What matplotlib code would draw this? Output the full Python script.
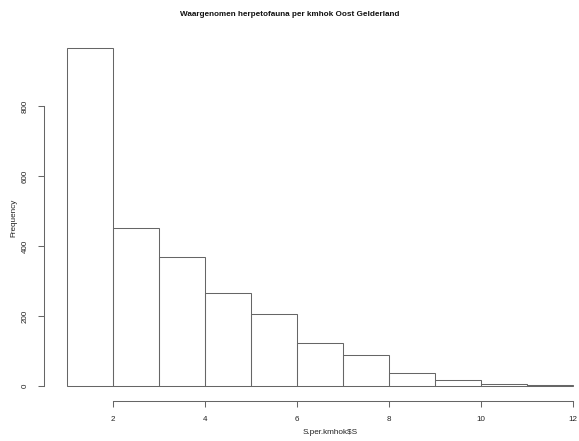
import matplotlib
matplotlib.use("Agg")
import matplotlib.pyplot as plt
import numpy as np

plt.rcParams['font.family'] = ['Liberation Sans', 'DejaVu Sans']

bin_edges = [1, 2, 3, 4, 5, 6, 7, 8, 9, 10, 11, 12]
counts = [966, 452, 368, 265, 207, 122, 89, 38, 16, 7, 2]
x_ticks = [2, 4, 6, 8, 10, 12]
y_ticks = [0, 200, 400, 600, 800]
title = "Waargenomen herpetofauna per kmhok Oost Gelderland"
xlabel = "S.per.kmhok$S"
ylabel = "Frequency"

W, H = 579, 441
fig = plt.figure(figsize=(W / 100, H / 100), dpi=100)

left_px, right_px = 46.4, 593.0
top_px, bottom_px = 34.4, 399.5
ax = fig.add_axes([left_px / W, 1 - bottom_px / H,
                   (right_px - left_px) / W, (bottom_px - top_px) / H])

lc = '#666666'
edges = np.array(bin_edges)
ax.bar(edges[:-1], counts, width=np.diff(edges), align='edge',
       fill=False, edgecolor=lc, linewidth=0.75)

ax.set_xlim(0.56, 12.44)
ax.set_ylim(-38.6, 1004.6)

for s in ['top', 'right']:
    ax.spines[s].set_visible(False)
ax.spines['left'].set_bounds(0, 800)
ax.spines['bottom'].set_bounds(2, 12)
ax.spines['left'].set_position(('outward', 2))
ax.spines['bottom'].set_position(('outward', 1))
for s in ['left', 'bottom']:
    ax.spines[s].set_color(lc)
    ax.spines[s].set_linewidth(0.75)

ax.set_xticks(x_ticks)
ax.set_xticklabels([str(t) for t in x_ticks])
ax.set_yticks(y_ticks)
ax.set_yticklabels([str(t) for t in y_ticks], rotation=90, va='center')
ax.tick_params(axis='both', length=4, width=0.75, color=lc, labelsize=5.8,
               labelcolor='#222222')
ax.tick_params(axis='x', pad=7)
ax.tick_params(axis='y', pad=7)

fig.text(289.5 / W, 1 - 15 / H, title, ha='center', va='center',
         fontsize=5.9, fontweight='bold', color='#111111')
fig.text(330 / W, 1 - 432 / H, xlabel, ha='center', va='center',
         fontsize=5.9, color='#222222')
fig.text(14 / W, 1 - 218 / H, ylabel, ha='center', va='center',
         fontsize=5.9, rotation=90, color='#222222')

fig.savefig("out.png", dpi=100)
